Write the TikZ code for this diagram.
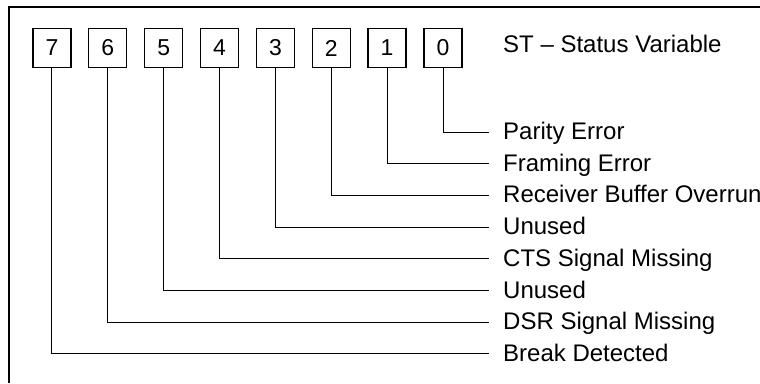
\documentclass[tikz,border=0pt]{standalone}
\usepackage{fontspec}
\setmainfont{Liberation Sans}
\begin{document}
\begin{tikzpicture}[x=1pt,y=-1pt,
  bitbox/.style={draw,line width=1.3pt,minimum width=38pt,minimum height=39pt,inner sep=0pt,font=\fontsize{23}{26}\selectfont},
  lbl/.style={anchor=base west,inner sep=0pt,font=\fontsize{24}{28}\selectfont},
  conn/.style={line width=1pt}]
\useasboundingbox (0,0) rectangle (760,383);
\draw[line width=1.3pt] (9,383) -- (9,7) -- (761,7);
\foreach \k/\t in {0/Parity Error,1/Framing Error,2/Receiver Buffer Overrun,3/Unused,4/CTS Signal Missing,5/Unused,6/DSR Signal Missing,7/Break Detected}{
  \pgfmathsetmacro{\xx}{443-55.86*\k}
  \pgfmathsetmacro{\yy}{132+31.7*\k}
  \node[bitbox] (b\k) at (\xx,48) {\k};
  \coordinate (e\k) at (489,\yy);
  \node[lbl] (t\k) at (503,\yy+7.5) {\t};
  \draw[conn] (b\k.south) |- (e\k);
}
\node[lbl] (title) at (503,52) {ST – Status Variable};
\end{tikzpicture}
\end{document}
